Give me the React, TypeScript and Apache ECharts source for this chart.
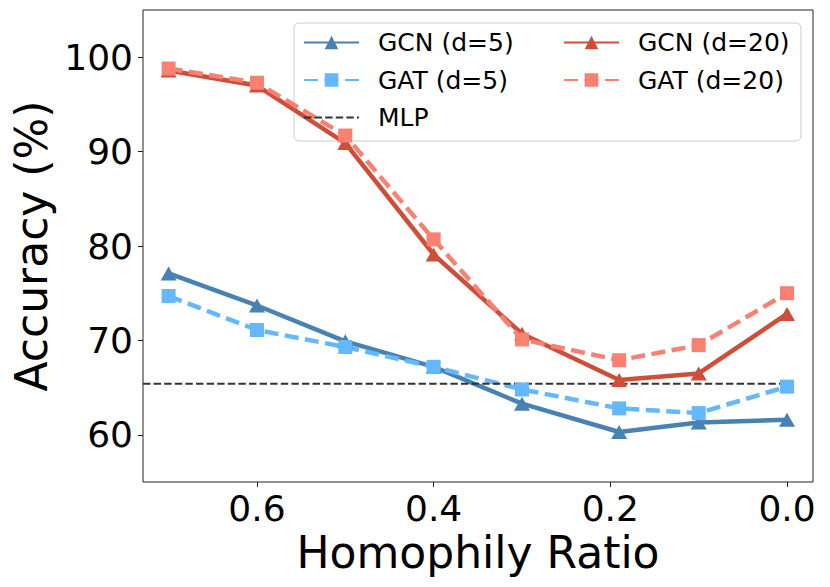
import React, { useEffect, useRef } from "react";
import * as echarts from "echarts";

const homophily = [0.7, 0.6, 0.5, 0.4, 0.3, 0.19, 0.1, 0.0];
const gcnD5 = [77.1, 73.7, 69.9, 67.2, 63.3, 60.3, 61.3, 61.6];
const gatD5 = [74.7, 71.1, 69.3, 67.2, 64.8, 62.8, 62.3, 65.1];
const gcnD20 = [98.6, 97.0, 90.9, 79.1, 70.7, 65.8, 66.5, 72.8];
const gatD20 = [98.8, 97.3, 91.7, 80.7, 70.1, 67.9, 69.5, 75.0];
const mlpAccuracy = 65.4;
const mlpSpan = [0.729, 0.0];
const xTicks = [0.0, 0.2, 0.4, 0.6];
const yTicks = [60, 70, 80, 90, 100];

const FONT = "DejaVu Sans";

function pairs(xs: number[], ys: number[]) {
  return xs.map((x, i) => [x, ys[i]]);
}

export default function App() {
  const ref = useRef<HTMLDivElement>(null);
  useEffect(() => {
    if (!ref.current) return;
    const chart = echarts.init(ref.current, null, { renderer: "svg" });
    const lineSeries = (
      name: string,
      ys: number[],
      color: string,
      symbol: string,
      symbolSize: number | number[],
      dashed: boolean
    ) => ({
      name,
      type: "line",
      data: pairs(homophily, ys),
      symbol,
      symbolSize,
      showSymbol: true,
      itemStyle: { color },
      lineStyle: {
        color,
        width: 4.5,
        type: dashed ? [14, 6.5] : "solid",
      },
      emphasis: { disabled: true },
    });
    const legendText = {
      fontFamily: FONT,
      fontSize: 25,
      color: "#000",
      padding: [0, 0, 0, 14],
    };
    const legendCommon = {
      orient: "vertical",
      top: 30,
      padding: 0,
      itemGap: 12.5,
      itemWidth: 55,
      itemHeight: 17,
      textStyle: legendText,
      z: 5,
    };
    chart.setOption({
      animation: false,
      grid: {
        left: 143,
        right: 17,
        top: 10,
        bottom: 105,
        show: true,
        borderColor: "#222",
        borderWidth: 1,
        backgroundColor: "transparent",
      },
      xAxis: {
        type: "value",
        inverse: true,
        min: -0.0294,
        max: 0.729,
        name: "Homophily Ratio",
        nameLocation: "middle",
        nameGap: 42,
        nameTextStyle: { fontFamily: FONT, fontSize: 44, color: "#000" },
        axisLine: { show: false, onZero: false },
        splitLine: { show: false },
        axisTick: {
          show: true,
          length: 5,
          lineStyle: { color: "#222" },
          customValues: xTicks,
        },
        axisLabel: {
          fontFamily: FONT,
          fontSize: 36,
          color: "#000",
          margin: 8,
          customValues: xTicks,
          formatter: (v: number) => v.toFixed(1),
        },
      },
      yAxis: {
        type: "value",
        min: 55,
        max: 105,
        name: "Accuracy (%)",
        nameLocation: "middle",
        nameGap: 83,
        nameTextStyle: { fontFamily: FONT, fontSize: 44, color: "#000" },
        axisLine: { show: false, onZero: false },
        splitLine: { show: false },
        axisTick: {
          show: true,
          length: 5,
          lineStyle: { color: "#222" },
          customValues: yTicks,
        },
        axisLabel: {
          fontFamily: FONT,
          fontSize: 36,
          color: "#000",
          margin: 10,
          customValues: yTicks,
        },
      },
      graphic: [
        {
          type: "rect",
          z: 3,
          shape: { x: 294, y: 23, width: 507, height: 118, r: 5 },
          style: { fill: "rgba(255,255,255,0.8)", stroke: "#cccccc", lineWidth: 1 },
        },
      ],
      legend: [
        {
          ...legendCommon,
          left: 303,
          data: [
            "GCN (d=5)",
            "GAT (d=5)",
            { name: "MLP", itemStyle: { color: "rgba(0,0,0,0)", opacity: 0 } },
          ],
        },
        {
          ...legendCommon,
          left: 563,
          data: ["GCN (d=20)", "GAT (d=20)"],
        },
      ],
      series: [
        lineSeries("GCN (d=5)", gcnD5, "#4682B4", "triangle", [16, 14], false),
        lineSeries("GAT (d=5)", gatD5, "#63B8FF", "rect", 14, true),
        lineSeries("GCN (d=20)", gcnD20, "#CD4F39", "triangle", [16, 14], false),
        lineSeries("GAT (d=20)", gatD20, "#FA8072", "rect", 14, true),
        {
          name: "MLP",
          type: "line",
          data: mlpSpan.map((x) => [x, mlpAccuracy]),
          symbol: "none",
          itemStyle: { color: "#333333" },
          lineStyle: { color: "#333333", width: 2, type: [7.4, 3.2] },
          emphasis: { disabled: true },
        },
      ],
    });
    return () => chart.dispose();
  }, []);
  return (
    <div
      ref={ref}
      style={{ position: "fixed", left: 0, top: 0, width: 830, height: 587, background: "#fff" }}
    />
  );
}
